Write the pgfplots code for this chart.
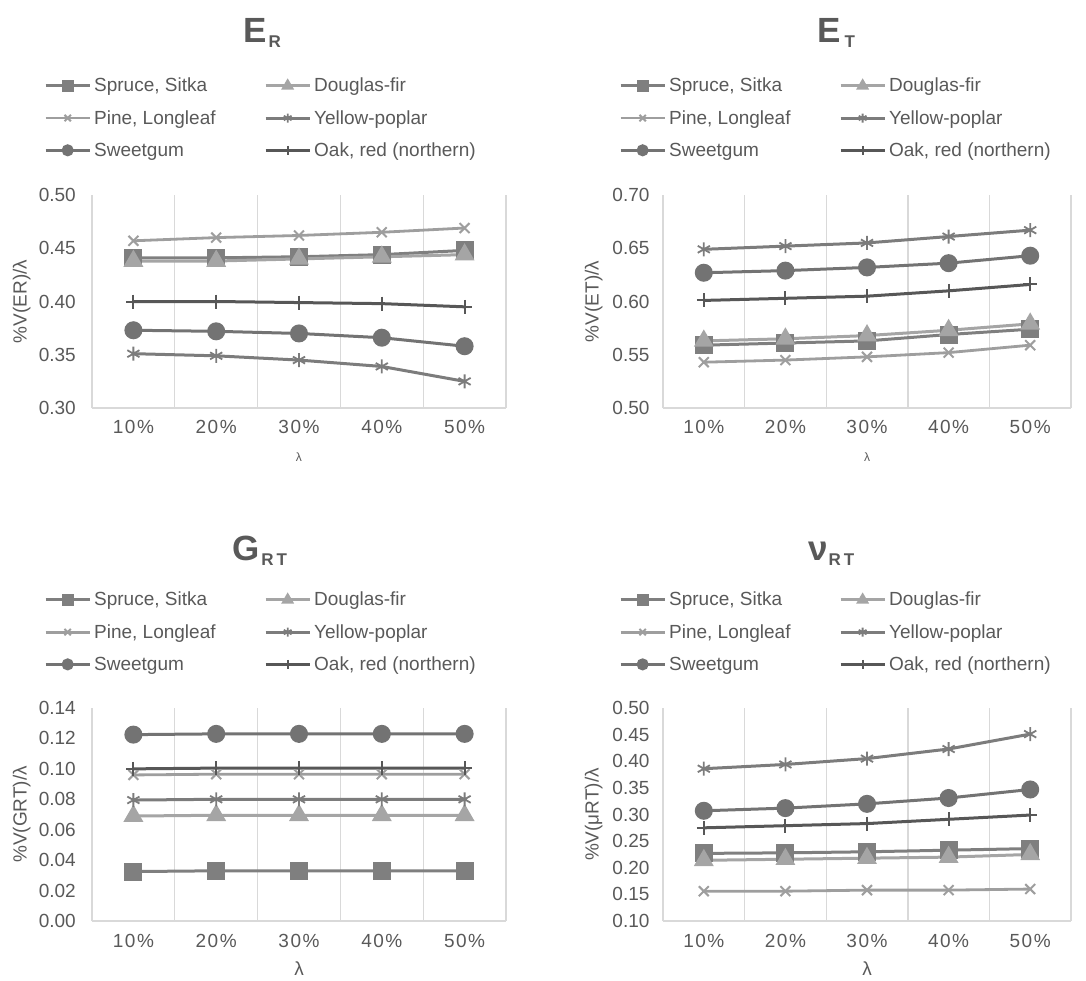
\documentclass[border=0pt]{standalone}
\usepackage{pgfplots}
\pgfplotsset{compat=1.18}
\usepackage{fontspec}
\setmainfont{Liberation Sans}
\definecolor{txt}{HTML}{595959}
\definecolor{gridc}{HTML}{D9D9D9}
\definecolor{cSpruce}{HTML}{7F7F7F}
\definecolor{cDoug}{HTML}{A5A5A5}
\definecolor{cPine}{HTML}{9E9E9E}
\definecolor{cYP}{HTML}{7C7C7C}
\definecolor{cSweet}{HTML}{737373}
\definecolor{cOak}{HTML}{575757}
\newcommand{\fs}[1]{\fontsize{#1}{#1}\selectfont}
\newcommand{\ylfont}{\fontsize{19}{19}\selectfont}
\pgfplotsset{
  panel/.style={
    scale only axis,
    xmin=-0.5, xmax=4.5,
    xtick={0,1,2,3,4},
    xticklabels={10\%,20\%,30\%,40\%,50\%},
    minor xtick={-0.5,0.5,1.5,2.5,3.5,4.5},
    xminorgrids, minor grid style={gridc, line width=1.4pt},
    axis x line*=bottom, axis y line*=left,
    axis line style={gridc, line width=1.4pt, -},
    major tick length=0pt, minor tick length=0pt,
    /pgf/number format/assume math mode=true,
    tick label style={font=\fs{19}, text=txt},
    xticklabel style={font=\fs{19}\addfontfeatures{LetterSpace=8}},
    yticklabel={\pgfmathprintnumber[fixed,fixed zerofill,precision=2]{\tick}},
    ylabel style={at={(axis description cs:-0.17,0.5)}, anchor=center, font=\ylfont, text=txt},
    legend columns=2,
    legend cell align=left,
    legend style={draw=none, fill=none, inner sep=0pt, anchor=north west,
      font=\fs{19}, text=txt, row sep=13pt, column sep=0pt,
      nodes={inner xsep=3pt, inner ysep=2pt}},
    legend image code/.code={\draw[mark repeat=2,mark phase=2,##1,mark size=4.5pt] plot coordinates {(0pt,0pt) (22pt,0pt) (44pt,0pt)};},
  },
  sSpruce/.style={color=cSpruce, line width=3pt, mark=square*, mark size=7.5pt, mark options={solid}},
  sDoug/.style={color=cDoug, line width=3pt, mark=triangle*, mark size=8.5pt, mark options={solid}},
  sPine/.style={color=cPine, line width=2.8pt, mark=x, mark size=7pt, mark options={solid, line width=2pt}},
  sYP/.style={color=cYP, line width=3pt, mark=asterisk, mark size=7pt, mark options={solid, line width=1.8pt}},
  sSweet/.style={color=cSweet, line width=3pt, mark=*, mark size=7.5pt, mark options={solid}},
  sOak/.style={color=cOak, line width=3pt, mark=+, mark size=7pt, mark options={solid, line width=2pt}},
}
\newcommand{\legA}{\makebox[167pt][l]{Spruce, Sitka}}
\newcommand{\legC}{\makebox[167pt][l]{Pine, Longleaf}}
\newcommand{\legE}{\makebox[167pt][l]{Sweetgum}}
\begin{document}
\begin{tikzpicture}[x=1pt,y=1pt]
\useasboundingbox (0,0) rectangle (1086,-981);
% titles
\node[anchor=base west, inner sep=0pt, text=txt] at (243,-43) {\fs{35}\bfseries E\raisebox{-5pt}{\fs{17}\bfseries\kern2pt R}};
\node[anchor=base west, inner sep=0pt, text=txt] at (817,-43) {\fs{35}\bfseries E\raisebox{-5pt}{\fs{17}\bfseries\kern4pt T}};
\node[anchor=base west, inner sep=0pt, text=txt] at (232,-560) {\fs{35}\bfseries G\raisebox{-5pt}{\fs{17}\bfseries\kern2pt R\kern3pt T}};
\node[anchor=base west, inner sep=0pt, text=txt] at (808,-560) {\fs{35}\bfseries ν\raisebox{-5pt}{\fs{17}\bfseries\kern1pt R\kern3pt T}};

% ---------- E_R ----------
\begin{axis}[panel, at={(92pt,-408pt)}, anchor=south west, width=414pt, height=213pt,
  ymin=0.30, ymax=0.50, ytick={0.30,0.35,0.40,0.45,0.50},
  yticklabel style={xshift=-12.7pt}, xticklabel style={yshift=-9pt},
  ylabel={\ylfont\%V(ER)/λ},
  xlabel={λ}, every axis x label/.style={at={(axis description cs:0.5,-0.23)}, anchor=center, font=\fs{12}, text=txt},
  legend style={at={(axis description cs:-0.116,1.559)}}]
\addplot[sSpruce] coordinates {(0,0.441)(1,0.441)(2,0.442)(3,0.444)(4,0.448)}; \addlegendentry{\legA}
\addplot[sDoug] coordinates {(0,0.438)(1,0.438)(2,0.440)(3,0.442)(4,0.444)}; \addlegendentry{Douglas-fir}
\addplot[sPine] coordinates {(0,0.457)(1,0.460)(2,0.462)(3,0.465)(4,0.469)}; \addlegendentry{\legC}
\addplot[sYP] coordinates {(0,0.351)(1,0.349)(2,0.345)(3,0.339)(4,0.325)}; \addlegendentry{Yellow-poplar}
\addplot[sSweet] coordinates {(0,0.373)(1,0.372)(2,0.370)(3,0.366)(4,0.358)}; \addlegendentry{\legE}
\addplot[sOak] coordinates {(0,0.400)(1,0.400)(2,0.399)(3,0.398)(4,0.395)}; \addlegendentry{Oak, red (northern)}
\end{axis}

% ---------- E_T ----------
\begin{axis}[panel, at={(663pt,-408pt)}, anchor=south west, width=408pt, height=213pt,
  ymin=0.50, ymax=0.70, ytick={0.50,0.55,0.60,0.65,0.70},
  yticklabel style={xshift=-10pt}, xticklabel style={yshift=-9pt},
  ylabel={\ylfont\%V(ET)/λ},
  xlabel={λ}, every axis x label/.style={at={(axis description cs:0.5,-0.23)}, anchor=center, font=\fs{12}, text=txt},
  legend style={at={(axis description cs:-0.108,1.559)}}]
\addplot[sSpruce] coordinates {(0,0.559)(1,0.561)(2,0.563)(3,0.569)(4,0.574)}; \addlegendentry{\legA}
\addplot[sDoug] coordinates {(0,0.563)(1,0.565)(2,0.568)(3,0.573)(4,0.579)}; \addlegendentry{Douglas-fir}
\addplot[sPine] coordinates {(0,0.543)(1,0.545)(2,0.548)(3,0.552)(4,0.559)}; \addlegendentry{\legC}
\addplot[sYP] coordinates {(0,0.649)(1,0.652)(2,0.655)(3,0.661)(4,0.667)}; \addlegendentry{Yellow-poplar}
\addplot[sSweet] coordinates {(0,0.627)(1,0.629)(2,0.632)(3,0.636)(4,0.643)}; \addlegendentry{\legE}
\addplot[sOak] coordinates {(0,0.601)(1,0.603)(2,0.605)(3,0.610)(4,0.616)}; \addlegendentry{Oak, red (northern)}
\end{axis}

% ---------- G_RT ----------
\begin{axis}[panel, at={(92pt,-921pt)}, anchor=south west, width=414pt, height=213pt,
  ymin=0, ymax=0.14, ytick={0,0.02,0.04,0.06,0.08,0.10,0.12,0.14},
  yticklabel style={xshift=-12.7pt}, xticklabel style={yshift=-10pt},
  ylabel={\ylfont\%V(GRT)/λ},
  xlabel={λ}, every axis x label/.style={at={(axis description cs:0.5,-0.225)}, anchor=center, font=\fs{19}, text=txt},
  legend style={at={(axis description cs:-0.116,1.554)}}]
\addplot[sSpruce] coordinates {(0,0.0325)(1,0.033)(2,0.033)(3,0.033)(4,0.033)}; \addlegendentry{\legA}
\addplot[sDoug] coordinates {(0,0.069)(1,0.0695)(2,0.0695)(3,0.0695)(4,0.0695)}; \addlegendentry{Douglas-fir}
\addplot[sPine] coordinates {(0,0.096)(1,0.0965)(2,0.0965)(3,0.0965)(4,0.0965)}; \addlegendentry{\legC}
\addplot[sYP] coordinates {(0,0.0795)(1,0.080)(2,0.080)(3,0.080)(4,0.080)}; \addlegendentry{Yellow-poplar}
\addplot[sSweet] coordinates {(0,0.1225)(1,0.123)(2,0.123)(3,0.123)(4,0.123)}; \addlegendentry{\legE}
\addplot[sOak] coordinates {(0,0.100)(1,0.1005)(2,0.1005)(3,0.1005)(4,0.1005)}; \addlegendentry{Oak, red (northern)}
\end{axis}

% ---------- nu_RT ----------
\begin{axis}[panel, at={(663pt,-921pt)}, anchor=south west, width=408pt, height=213pt,
  ymin=0.10, ymax=0.50, ytick={0.10,0.15,0.20,0.25,0.30,0.35,0.40,0.45,0.50},
  yticklabel style={xshift=-10pt}, xticklabel style={yshift=-10pt},
  ylabel={\ylfont\%V(μRT)/λ},
  xlabel={λ}, every axis x label/.style={at={(axis description cs:0.5,-0.225)}, anchor=center, font=\fs{19}, text=txt},
  legend style={at={(axis description cs:-0.108,1.554)}}]
\addplot[sSpruce] coordinates {(0,0.227)(1,0.228)(2,0.230)(3,0.233)(4,0.236)}; \addlegendentry{\legA}
\addplot[sDoug] coordinates {(0,0.214)(1,0.216)(2,0.218)(3,0.220)(4,0.225)}; \addlegendentry{Douglas-fir}
\addplot[sPine] coordinates {(0,0.156)(1,0.156)(2,0.158)(3,0.158)(4,0.160)}; \addlegendentry{\legC}
\addplot[sYP] coordinates {(0,0.386)(1,0.394)(2,0.405)(3,0.423)(4,0.451)}; \addlegendentry{Yellow-poplar}
\addplot[sSweet] coordinates {(0,0.307)(1,0.312)(2,0.320)(3,0.331)(4,0.347)}; \addlegendentry{\legE}
\addplot[sOak] coordinates {(0,0.275)(1,0.279)(2,0.283)(3,0.291)(4,0.299)}; \addlegendentry{Oak, red (northern)}
\end{axis}
\end{tikzpicture}
\end{document}
